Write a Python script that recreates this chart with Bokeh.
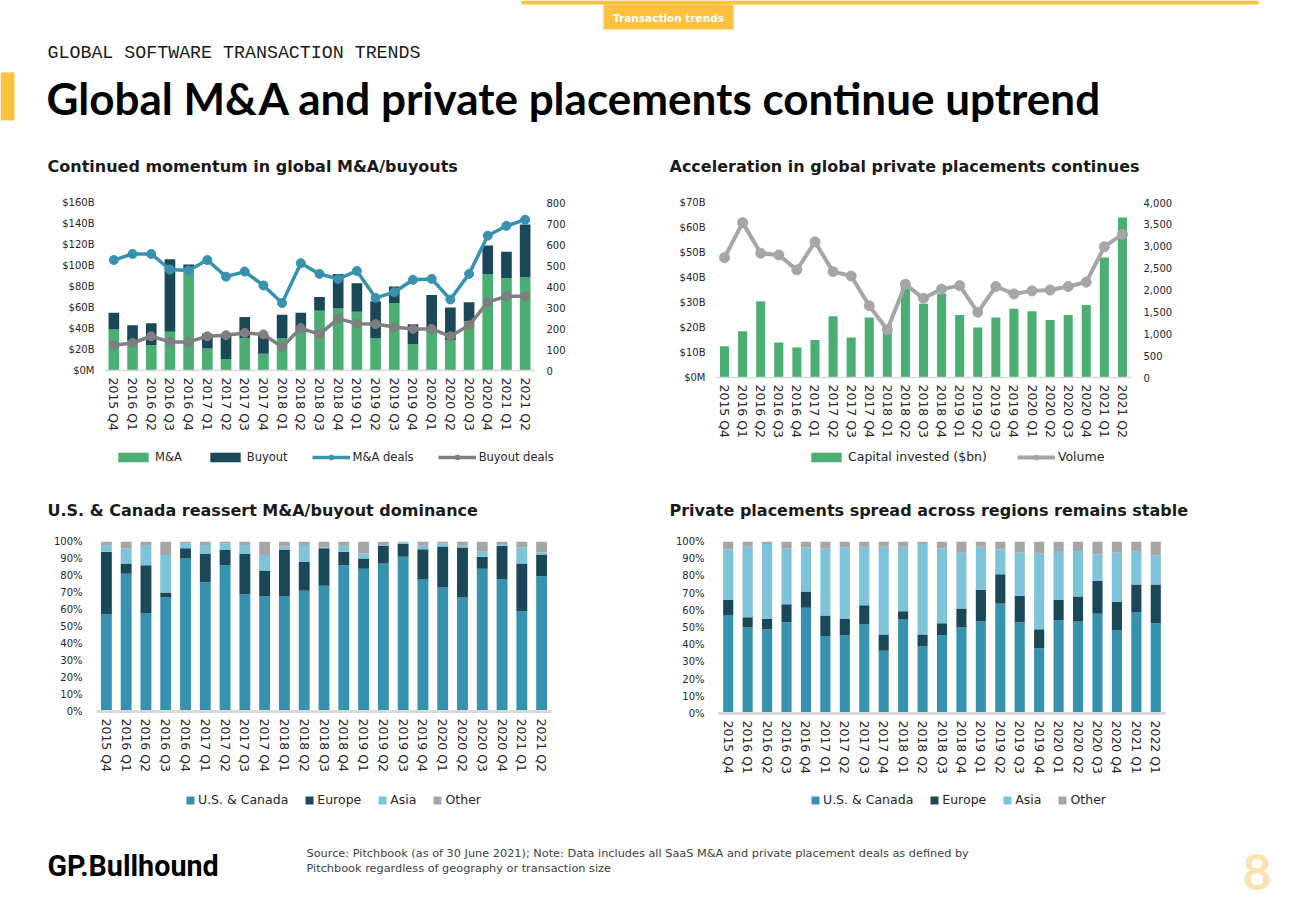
from bokeh.plotting import figure
from bokeh.models import (ColumnDataSource, Range1d, LinearAxis, FixedTicker,
                          NumeralTickFormatter, Legend, LegendItem)
from bokeh.layouts import column, row
from bokeh.embed import file_html
from bokeh.resources import INLINE
from bokeh.core.properties import value

# ---------------- data ----------------
quarters = ["2015 Q4", "2016 Q1", "2016 Q2", "2016 Q3", "2016 Q4", "2017 Q1", "2017 Q2",
            "2017 Q3", "2017 Q4", "2018 Q1", "2018 Q2", "2018 Q3", "2018 Q4", "2019 Q1",
            "2019 Q2", "2019 Q3", "2019 Q4", "2020 Q1", "2020 Q2", "2020 Q3", "2020 Q4",
            "2021 Q1", "2021 Q2"]
quarters_pp_regions = ["2015 Q4", "2016 Q1", "2016 Q2", "2016 Q3", "2016 Q4", "2017 Q1", "2017 Q2",
                       "2017 Q3", "2017 Q4", "2018 Q1", "2018 Q2", "2018 Q3", "2018 Q4", "2019 Q1",
                       "2019 Q2", "2019 Q3", "2019 Q4", "2020 Q1", "2020 Q2", "2020 Q3", "2020 Q4",
                       "2021 Q1", "2022 Q1"]

# global M&A / buyouts ($bn) and deal counts
ma_value_bn = [39, 28, 24, 37, 97, 21, 11, 31, 16, 31, 37, 57, 59, 56, 31, 64, 25, 37, 29, 47, 92, 88, 89]
buyout_value_bn = [16, 15, 21, 69, 4, 14, 24, 20, 18, 22, 18, 13, 33, 27, 35, 16, 19, 35, 31, 18, 27, 25, 50]
ma_deals = [526, 555, 555, 481, 476, 526, 447, 471, 405, 321, 511, 460, 436, 474, 346, 373, 432, 436,
            338, 460, 642, 689, 718]
buyout_deals = [120, 131, 163, 136, 136, 163, 168, 179, 172, 112, 202, 172, 247, 223, 221, 207, 198,
                198, 163, 215, 326, 353, 353]

# global private placements
pp_capital_bn = [12.5, 18.5, 30.5, 14, 12, 15, 24.5, 16, 24, 21, 38, 29.5, 33.5, 25, 20, 24, 27.5,
                 26.5, 23, 25, 29, 48, 64]
pp_volume = [2740, 3540, 2840, 2800, 2460, 3100, 2420, 2320, 1640, 1090, 2130, 1810, 2020, 2100,
             1490, 2080, 1910, 1980, 2000, 2080, 2180, 2990, 3270]

# regional split of M&A / buyouts (%)
ma_us_canada = [57, 81, 58, 67, 90, 76, 86, 69, 68, 68, 71, 74, 86, 84, 87, 91, 78, 73, 67, 84, 78, 59, 79.5]
ma_europe = [37, 6, 28, 3, 6, 17, 9, 24, 15, 27, 17, 22, 8, 6, 10.5, 7.5, 17.5, 24, 29.5, 7, 19.5, 28, 12.5]
ma_asia = [4, 9, 12, 22, 3, 5, 4, 5, 9, 2, 10, 0.5, 3.5, 3, 0.5, 1, 2, 2, 1, 3, 1, 9.5, 1.5]
ma_other = [2, 4, 2, 8, 1, 2, 1, 2, 8, 3, 2, 3.5, 2.5, 7, 2, 0.5, 2.5, 1, 2.5, 6, 1.5, 3.5, 6.5]

# regional split of private placements (%)
pp_us_canada = [57, 50, 49, 53, 61.5, 45, 45.5, 52, 36.5, 55, 39, 45.5, 50, 53.5, 64, 53, 38, 54,
                53.5, 58, 48.5, 59, 52.5]
pp_europe = [9, 6, 6, 10.5, 9.5, 12, 9.5, 11, 9.5, 4.5, 7, 7, 11, 18.5, 17, 15.5, 11, 12, 14.5, 19,
             16.5, 16, 22.5]
pp_asia = [29.5, 41, 43.5, 32.5, 25.5, 39, 41.5, 34, 51, 37.5, 52.5, 43.5, 32.5, 25, 14.5, 25, 44,
           28.5, 26.5, 15.5, 28.5, 19, 17]
pp_other = [4.5, 3, 1.5, 4, 3.5, 4, 3.5, 3, 3, 3, 1.5, 4, 6.5, 3, 4.5, 6.5, 7, 5.5, 5.5, 7.5, 6.5, 6, 8]

left_ticks_ma = [0, 20, 40, 60, 80, 100, 120, 140, 160]
left_labels_ma = ["$0M", "$20B", "$40B", "$60B", "$80B", "$100B", "$120B", "$140B", "$160B"]
right_ticks_ma = [0, 100, 200, 300, 400, 500, 600, 700, 800]
left_ticks_pp = [0, 10, 20, 30, 40, 50, 60, 70]
left_labels_pp = ["$0M", "$10B", "$20B", "$30B", "$40B", "$50B", "$60B", "$70B"]
right_ticks_pp = [0, 500, 1000, 1500, 2000, 2500, 3000, 3500, 4000]
pct_ticks = [0, 10, 20, 30, 40, 50, 60, 70, 80, 90, 100]
region_labels = ["U.S. & Canada", "Europe", "Asia", "Other"]

# ---------------- styling ----------------
GREEN = "#4BAF74"
DARK = "#1B4858"
TEAL = "#3792B0"
GRAY_MID = "#7F7F7F"
GRAY_LIGHT = "#A6A6A6"
LIGHT_BLUE = "#7DC3DA"
YELLOW = "#FDC03F"
TXT = "#262626"
FONT = "DejaVu Sans"
W_TOTAL = 1300
HALF = 650
NAN = float("nan")
REGION_COLORS = [TEAL, DARK, LIGHT_BLUE, GRAY_LIGHT]


def style_y(ax, standoff=8):
    ax.axis_line_color = None
    ax.major_tick_line_color = None
    ax.minor_tick_line_color = None
    ax.major_label_text_font = FONT
    ax.major_label_text_font_size = "10px"
    ax.major_label_text_color = TXT
    ax.major_label_standoff = standoff


def make_chart(factors, y_end, left, frame_w, top, frame_h, bottom, left_standoff):
    p = figure(x_range=factors, y_range=Range1d(0, y_end),
               frame_width=frame_w, frame_height=frame_h,
               output_backend="svg", toolbar_location=None,
               min_border_left=left, min_border_right=HALF - left - frame_w,
               min_border_top=top, min_border_bottom=bottom)
    p.outline_line_color = None
    p.xgrid.grid_line_color = None
    p.ygrid.grid_line_color = None
    p.xaxis.axis_line_color = "#D9D9D9"
    p.xaxis.axis_line_width = 1.5
    p.xaxis.major_tick_line_color = None
    p.xaxis.minor_tick_line_color = None
    p.xaxis.major_label_orientation = "vertical"
    p.xaxis.major_label_text_font = FONT
    p.xaxis.major_label_text_font_size = "12.5px"
    p.xaxis.major_label_text_color = TXT
    p.xaxis.major_label_standoff = 1
    style_y(p.yaxis[0], left_standoff)
    return p


def make_legend(items, gw, gh, spacing, loc, font_size="11.5px"):
    return Legend(items=items, orientation="horizontal", location=loc,
                  glyph_width=gw, glyph_height=gh, label_text_font=FONT,
                  label_text_font_size=font_size, label_text_color=TXT,
                  label_height=14, border_line_color=None, background_fill_alpha=0,
                  spacing=spacing, label_standoff=3, padding=0, margin=0)


# ---------- chart 1: M&A / buyouts ----------
src1 = ColumnDataSource(dict(q=quarters, ma=ma_value_bn, buyout=buyout_value_bn,
                             ma_deals=ma_deals, buyout_deals=buyout_deals))
p1 = make_chart(quarters, 160, 104, 430, 22, 168, 75, 4)
p1.yaxis[0].ticker = FixedTicker(ticks=left_ticks_ma)
p1.yaxis[0].major_label_overrides = dict(zip(left_ticks_ma, left_labels_ma))
p1.extra_y_ranges = {"deals": Range1d(0, 800)}
ax1r = LinearAxis(y_range_name="deals", ticker=FixedTicker(ticks=right_ticks_ma))
style_y(ax1r, 6)
p1.add_layout(ax1r, "right")
p1.vbar_stack(["ma", "buyout"], x="q", width=0.57, color=[GREEN, DARK], line_color=None, source=src1)
p1.line("q", "ma_deals", source=src1, y_range_name="deals", line_color=TEAL, line_width=3.5)
p1.scatter("q", "ma_deals", source=src1, y_range_name="deals", size=9, color=TEAL)
p1.line("q", "buyout_deals", source=src1, y_range_name="deals", line_color=GRAY_MID, line_width=3.5)
p1.scatter("q", "buyout_deals", source=src1, y_range_name="deals", size=9, color=GRAY_MID)

# ---------- chart 2: private placements ----------
src2 = ColumnDataSource(dict(q=quarters, cap=pp_capital_bn, vol=pp_volume))
p2 = make_chart(quarters, 70, 65, 416, 17, 175, 73, 4)
p2.yaxis[0].ticker = FixedTicker(ticks=left_ticks_pp)
p2.yaxis[0].major_label_overrides = dict(zip(left_ticks_pp, left_labels_pp))
p2.extra_y_ranges = {"vol": Range1d(0, 4000)}
ax2r = LinearAxis(y_range_name="vol", ticker=FixedTicker(ticks=right_ticks_pp),
                  formatter=NumeralTickFormatter(format="0,0"))
style_y(ax2r, 6)
p2.add_layout(ax2r, "right")
p2.vbar(x="q", top="cap", width=0.5, color=GREEN, line_color=None, source=src2)
p2.line("q", "vol", source=src2, y_range_name="vol", line_color=GRAY_LIGHT, line_width=4)
p2.scatter("q", "vol", source=src2, y_range_name="vol", size=10, color=GRAY_LIGHT)


# ---------- charts 3 & 4: regional splits ----------
def region_chart(factors, us, eu, asia, other, left, frame_w, top, frame_h, bottom, width_bar):
    src = ColumnDataSource(dict(q=factors, us=us, eu=eu, asia=asia, other=other))
    p = make_chart(factors, 100, left, frame_w, top, frame_h, bottom, 8)
    p.xaxis.axis_line_width = 3
    p.yaxis[0].ticker = FixedTicker(ticks=pct_ticks)
    p.yaxis[0].major_label_overrides = {t: f"{t}%" for t in pct_ticks}
    p.vbar_stack(["us", "eu", "asia", "other"], x="q", width=width_bar,
                 color=REGION_COLORS, line_color=None, source=src)
    return p


p3 = region_chart(quarters, ma_us_canada, ma_europe, ma_asia, ma_other, 96, 455, 16, 170, 74, 0.55)
p4 = region_chart(quarters_pp_regions, pp_us_canada, pp_europe, pp_asia, pp_other, 68, 447, 16, 172, 72, 0.52)


# ---------- decorative strips (titles, legends, footer) ----------
def strip(height):
    s = figure(width=W_TOTAL, height=height, x_range=Range1d(0, W_TOTAL), y_range=Range1d(height, 0),
               output_backend="svg", toolbar_location=None, min_border=0,
               x_axis_location=None, y_axis_location=None)
    s.outline_line_color = None
    s.grid.visible = False
    return s


def label(s, xs, ys, texts, font, size, color="#1a1a1a", bold=False, align="left"):
    s.text(x=xs, y=ys, text=texts, text_align=align, text_baseline="middle",
           text_font=value(font), text_font_style="bold" if bold else "normal",
           text_font_size=size, text_color=color)


def key_legend(s, entries, gw, gh, spacing, loc, lw=3.5, sz=9, font_size="11.5px"):
    # legend keys: renderers with no drawable point, styled like the chart series
    items = []
    for text, kind, color in entries:
        if kind == "bar":
            r = s.vbar(x=[NAN], top=[NAN], width=1, color=color, line_color=None)
            items.append(LegendItem(label=text, renderers=[r]))
        else:
            r1 = s.line(x=[NAN], y=[NAN], line_color=color, line_width=lw)
            r2 = s.scatter(x=[NAN], y=[NAN], size=sz, color=color)
            items.append(LegendItem(label=text, renderers=[r1, r2]))
    s.add_layout(make_legend(items, gw, gh, spacing, loc, font_size))


header = strip(180)
header.quad(left=[521], right=[1258], top=[0], bottom=[4], color=YELLOW, line_color=None)
header.quad(left=[603], right=[733], top=[4], bottom=[29], color=YELLOW, line_color=None)
header.quad(left=[0], right=[14], top=[72], bottom=[120], color=YELLOW, line_color=None)
label(header, [668], [17], ["Transaction trends"], FONT, "10.5px", color="white", bold=True, align="center")
label(header, [47], [52], ["GLOBAL SOFTWARE TRANSACTION TRENDS"], "Liberation Mono", "18.3px")
label(header, [46], [97.5], ["Global M&A and private placements continue uptrend"], "Lato", "44px",
      color="black", bold=True)
label(header, [47, 669], [166, 166],
      ["Continued momentum in global M&A/buyouts", "Acceleration in global private placements continues"],
      FONT, "16px", bold=True)

mid = strip(80)
key_legend(mid, [("M&A", "bar", GREEN), ("Buyout", "bar", DARK),
                 ("M&A deals", "line", TEAL), ("Buyout deals", "line", GRAY_MID)],
           38, 12, 24, (114, 61))
key_legend(mid, [("Capital invested ($bn)", "bar", GREEN), ("Volume", "line", GRAY_LIGHT)],
           38, 12, 30, (807, 61), lw=4, sz=10, font_size="12.5px")
label(mid, [47, 669], [65, 65],
      ["U.S. & Canada reassert M&A/buyout dominance", "Private placements spread across regions remains stable"],
      FONT, "16px", bold=True)

footer = strip(115)
key_legend(footer, [(t, "bar", c) for t, c in zip(region_labels, REGION_COLORS)], 10, 10, 16, (185, 93),
           font_size="12.5px")
key_legend(footer, [(t, "bar", c) for t, c in zip(region_labels, REGION_COLORS)], 10, 10, 16, (810, 93),
           font_size="12.5px")
label(footer, [47], [80.5], ["GP.Bullhound"], "Roboto", "28.7px", color="black", bold=True)
label(footer, [306, 306], [67.5, 82.5],
      ["Source: Pitchbook (as of 30 June 2021); Note: Data includes all SaaS M&A and private placement deals as defined by",
       "Pitchbook regardless of geography or transaction size"], FONT, "11.3px", color="#404040")
label(footer, [1242], [86], ["8"], "Lato", "50px", color="#FDE2B0", bold=True)

layout = column(header, row(p1, p2), mid, row(p3, p4), footer)
open("out.html", "w").write(file_html(layout, INLINE))
